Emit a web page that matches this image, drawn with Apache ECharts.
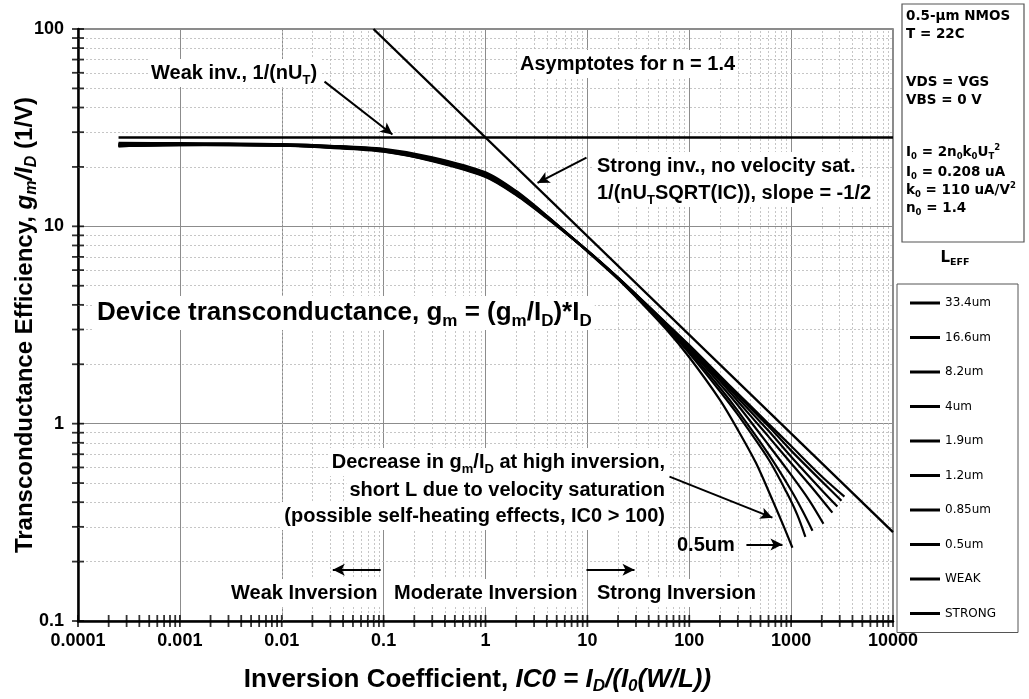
<!DOCTYPE html>
<html>
<head>
<meta charset="utf-8">
<script src="https://cdn.jsdelivr.net/npm/echarts@6/dist/echarts.min.js"></script>
<style>
html,body{margin:0;padding:0;background:#fff;}
#main{width:1029px;height:699px;}
</style>
</head>
<body>
<div id="main"></div>
<script>
// axes
var xTicks = [0.0001, 0.001, 0.01, 0.1, 1, 10, 100, 1000, 10000];
var xTickLabels = ['0.0001', '0.001', '0.01', '0.1', '1', '10', '100', '1000', '10000'];
var yTicks = [0.1, 1, 10, 100];
var yTickLabels = ['0.1', '1', '10', '100'];

// measured gm/ID vs IC0 for each channel length, [IC0, gm/ID]
var l334 = [[0.00025,26.5],[0.001,26.4],[0.003,26.3],[0.01,26.1],[0.03,25.5],[0.1,24.4],[0.3,21.9],[1,18.2],[2,14.7],[4,11.2],[10,7.55],[20,5.5],[30,4.52],[60,3.22],[100,2.5],[200,1.75],[300,1.42],[600,1.0],[1000,0.77],[2000,0.54],[3335,0.427]];
var l166 = [[0.00025,26.2],[0.001,26.2],[0.003,26.1],[0.01,25.9],[0.03,25.3],[0.1,24.2],[0.3,21.7],[1,18.0],[2,14.6],[4,11.1],[10,7.53],[20,5.49],[30,4.51],[60,3.2],[100,2.48],[200,1.72],[300,1.39],[600,0.97],[1000,0.73],[2000,0.51],[3120,0.407]];
var l82 = [[0.00025,26.0],[0.001,26.0],[0.003,25.9],[0.01,25.7],[0.03,25.1],[0.1,24.0],[0.3,21.5],[1,17.9],[2,14.5],[4,11.1],[10,7.52],[20,5.48],[30,4.5],[60,3.18],[100,2.45],[200,1.69],[300,1.35],[600,0.92],[1000,0.68],[2000,0.46],[2845,0.38]];
var l4 = [[0.00025,25.8],[0.001,25.9],[0.003,25.8],[0.01,25.6],[0.03,25.0],[0.1,23.9],[0.3,21.4],[1,17.8],[2,14.4],[4,11.0],[10,7.5],[20,5.47],[30,4.49],[60,3.16],[100,2.42],[200,1.65],[300,1.30],[600,0.86],[1000,0.63],[1600,0.475],[2540,0.354]];
var l19 = [[0.00025,25.7],[0.001,25.8],[0.003,25.8],[0.01,25.6],[0.03,25.1],[0.1,24.1],[0.3,21.7],[1,18.1],[2,14.6],[4,11.1],[10,7.5],[20,5.46],[30,4.47],[60,3.13],[100,2.38],[200,1.59],[300,1.24],[600,0.78],[1000,0.55],[1500,0.41],[2075,0.311]];
var l12 = [[0.00025,25.6],[0.001,25.8],[0.003,25.9],[0.01,25.7],[0.03,25.2],[0.1,24.3],[0.3,22.0],[1,18.4],[2,14.8],[4,11.2],[10,7.5],[20,5.45],[30,4.45],[60,3.09],[100,2.33],[200,1.52],[300,1.16],[600,0.70],[1000,0.46],[1300,0.36],[1620,0.287]];
var l085 = [[0.00025,25.5],[0.001,25.9],[0.003,26.0],[0.01,25.9],[0.03,25.4],[0.1,24.5],[0.3,22.2],[1,18.6],[2,15.0],[4,11.3],[10,7.5],[20,5.43],[30,4.42],[60,3.05],[100,2.27],[200,1.46],[300,1.11],[600,0.66],[900,0.45],[1150,0.345],[1380,0.267]];
var l05 = [[0.00025,25.4],[0.001,26.0],[0.003,26.1],[0.01,26.0],[0.03,25.6],[0.1,24.7],[0.3,22.4],[1,18.8],[2,15.1],[4,11.3],[10,7.45],[20,5.4],[30,4.38],[60,2.99],[100,2.17],[200,1.32],[300,0.93],[450,0.635],[656,0.41],[850,0.30],[1030,0.235]];

// asymptotes for n = 1.4
var weakAsym = [[0.00025,28.2],[10000,28.2]];
var strongAsym = [[0.0795,100],[10000,0.282]];

var curveNames = ['33.4um','16.6um','8.2um','4um','1.9um','1.2um','0.85um','0.5um'];
var curveData = [l334, l166, l82, l4, l19, l12, l085, l05];

var FONT = 'Liberation Sans, Arial, Helvetica, sans-serif';
var WIDE = 'DejaVu Sans, Verdana, sans-serif';

var chart = echarts.init(document.getElementById('main'));

//网格和刻度
var gridLines = [];
var xMinor = [], yMinor = [];
for (var i = 0; i < xTicks.length - 1; i++) {
	for (var k = 1; k <= 9; k++) {
		var v = xTicks[i] * k;
		if (k > 1) gridLines.push({xAxis: v});
		xMinor.push([v, 0.1]);
	}
}
xMinor.push([10000, 0.1]);
for (var j = 0; j < yTicks.length - 1; j++) {
	for (var m = 1; m <= 9; m++) {
		var w = yTicks[j] * m;
		if (m > 1) gridLines.push({yAxis: w});
		yMinor.push([0.0001, w]);
	}
}
yMinor.push([0.0001, 100]);

function tickLabel(list, labels) {
	return function (v) {
		var idx = Math.round(Math.log10(v) - Math.log10(list[0]));
		return labels[idx] !== undefined ? labels[idx] : '';
	};
}

var rich = {
	b: {fontFamily: FONT, fontWeight: 'bold', fontSize: 20, lineHeight: 28, color: '#000'},
	s: {fontFamily: FONT, fontWeight: 'bold', fontSize: 13, lineHeight: 15, verticalAlign: 'bottom', color: '#000'},
	big: {fontFamily: FONT, fontWeight: 'bold', fontSize: 26, lineHeight: 34, color: '#000'},
	bigs: {fontFamily: FONT, fontWeight: 'bold', fontSize: 17, lineHeight: 19, verticalAlign: 'bottom', color: '#000'}
};

function label(x, y, text, align, extra) {
	return {
		type: 'text', x: x, y: y, z: 50,
		style: {
			text: text, rich: rich, align: align || 'left', verticalAlign: 'middle',
			fontFamily: FONT, fontWeight: 'bold', fontSize: 20,
			backgroundColor: extra === false ? 'transparent' : '#fff', padding: [0, 3]
		}
	};
}

var boxRich = {
	t: {fontFamily: WIDE, fontWeight: 'bold', fontSize: 13.5, lineHeight: 18, color: '#000'},
	s: {fontFamily: WIDE, fontWeight: 'bold', fontSize: 8.5, lineHeight: 9, verticalAlign: 'bottom', color: '#000'},
	p: {fontFamily: WIDE, fontWeight: 'bold', fontSize: 8.5, lineHeight: 9, verticalAlign: 'top', color: '#000'}
};
function boxLine(y, text) {
	return {type: 'text', x: 906, y: y, z: 50,
		style: {text: text, rich: boxRich, align: 'left', verticalAlign: 'middle'}};
}

var series = [];
for (var c = 0; c < curveData.length; c++) {
	series.push({
		name: curveNames[c], type: 'line', data: curveData[c], showSymbol: false,
		smooth: 0.3, color: '#000', lineStyle: {color: '#000', width: 2.2}, z: 10
	});
}
series.push({
	name: 'WEAK', type: 'line', data: weakAsym, showSymbol: false, color: '#000',
	lineStyle: {color: '#000', width: 2.4}, z: 11
});
series.push({
	name: 'STRONG', type: 'line', data: strongAsym, showSymbol: false, color: '#000',
	lineStyle: {color: '#000', width: 2.4}, z: 11
});
// minor grid
series.push({
	name: 'grid', type: 'line', data: [[1, 1]], showSymbol: false, lineStyle: {opacity: 0},
	silent: true, z: 1,
	markLine: {
		silent: true, symbol: 'none', label: {show: false},
		lineStyle: {color: '#b8b8b8', type: [2, 2], width: 0.8},
		emphasis: {disabled: true},
		data: gridLines
	}
});
// arrows
series.push({
	name: 'arrows', type: 'line', data: [[1, 1]], showSymbol: false, lineStyle: {opacity: 0},
	silent: true, z: 20,
	markLine: {
		silent: true, symbol: ['none', 'arrow'], symbolSize: [9, 12], label: {show: false},
		lineStyle: {color: '#000', type: 'solid', width: 2},
		emphasis: {disabled: true},
		data: [
			[{coord: [0.0263, 54.1]}, {coord: [0.122, 29.2]}],
			[{coord: [9.8, 22.3]}, {coord: [3.24, 16.6]}],
			[{coord: [64, 0.539]}, {coord: [655, 0.334]}],
			[{coord: [364, 0.244]}, {coord: [822, 0.244]}],
			[{coord: [0.0935, 0.182]}, {coord: [0.0317, 0.182]}],
			[{coord: [9.8, 0.182]}, {coord: [29, 0.182]}]
		]
	}
});
// crossing ticks
series.push({
	name: 'xticks', type: 'scatter', data: xMinor, symbol: 'rect', symbolSize: [1.8, 12],
	itemStyle: {color: '#000'}, clip: false, silent: true, z: 30
});
series.push({
	name: 'yticks', type: 'scatter', data: yMinor, symbol: 'rect', symbolSize: [12, 1.8],
	itemStyle: {color: '#000'}, clip: false, silent: true, z: 30
});

function nameRich(size) {
	return {
		b: {fontFamily: FONT, fontWeight: 'bold', fontSize: size, lineHeight: 30, color: '#000'},
		i: {fontFamily: FONT, fontWeight: 'bold', fontStyle: 'italic', fontSize: size, lineHeight: 30, color: '#000'},
		is: {fontFamily: FONT, fontWeight: 'bold', fontStyle: 'italic', fontSize: Math.round(size * 0.66), lineHeight: 17, verticalAlign: 'bottom', color: '#000'}
	};
}

var option = {
	backgroundColor: '#fff',
	animation: false,
	grid: {left: 78, right: 136, top: 29, bottom: 78, containLabel: false, outerBoundsMode: 'none',
		show: true, borderColor: '#666', borderWidth: 1.5},
	xAxis: {
		type: 'log', logBase: 10, min: 0.0001, max: 10000, splitNumber: 8,
		axisLine: {show: true, lineStyle: {color: '#000', width: 2.5}},
		axisTick: {show: false},
		splitLine: {show: true, lineStyle: {color: '#8c8c8c', width: 1}},
		axisLabel: {formatter: tickLabel(xTicks, xTickLabels), fontFamily: FONT, fontWeight: 'bold', fontSize: 18, color: '#000', margin: 11},
		name: '{b|Inversion Coefficient, }{i|IC0 = I}{is|D}{i|/(I}{is|0}{i|(W/L))}',
		nameLocation: 'middle', nameGap: 44, nameMoveOverlap: false,
		nameTextStyle: {rich: nameRich(26), padding: [0, 16, 0, 0]}
	},
	yAxis: {
		type: 'log', logBase: 10, min: 0.1, max: 100, splitNumber: 3,
		axisLine: {show: true, lineStyle: {color: '#000', width: 2.5}},
		axisTick: {show: false},
		splitLine: {show: true, lineStyle: {color: '#8c8c8c', width: 1}},
		axisLabel: {formatter: tickLabel(yTicks, yTickLabels), fontFamily: FONT, fontWeight: 'bold', fontSize: 18, color: '#000', margin: 14},
		name: '{b|Transconductance Efficiency, }{i|g}{is|m}{i|/I}{is|D}{b| (1/V)}',
		nameLocation: 'middle', nameGap: 38, nameRotate: 90, nameMoveOverlap: false,
		nameTextStyle: {rich: nameRich(24)}
	},
	legend: {
		data: curveNames.concat(['WEAK', 'STRONG']),
		orient: 'vertical', left: 897, top: 284,
		icon: 'rect', itemWidth: 30, itemHeight: 3, itemGap: 18.5,
		padding: [11, 22, 11, 13],
		borderColor: '#555', borderWidth: 1,
		selectedMode: false,
		textStyle: {fontFamily: WIDE, fontSize: 12, color: '#000', lineHeight: 16}
	},
	graphic: [
		{type: 'rect', shape: {x: 902, y: 4, width: 122, height: 238}, style: {fill: '#fff', stroke: '#555', lineWidth: 1.2}, z: 40},
		boxLine(16, '{t|0.5-µm NMOS}'),
		boxLine(34, '{t|T = 22C}'),
		boxLine(82, '{t|VDS = VGS}'),
		boxLine(100, '{t|VBS = 0 V}'),
		boxLine(152, '{t|I}{s|0}{t| = 2n}{s|0}{t|k}{s|0}{t|U}{s|T}{p|2}'),
		boxLine(172, '{t|I}{s|0}{t| = 0.208 uA}'),
		boxLine(190, '{t|k}{s|0}{t| = 110 uA/V}{p|2}'),
		boxLine(208, '{t|n}{s|0}{t| = 1.4}'),
		{type: 'text', x: 955, y: 258, z: 50, style: {
			text: '{L|L}{E|EFF}', align: 'center', verticalAlign: 'middle',
			rich: {
				L: {fontFamily: WIDE, fontWeight: 'bold', fontSize: 15, lineHeight: 20, color: '#000'},
				E: {fontFamily: WIDE, fontWeight: 'bold', fontSize: 9.5, lineHeight: 11, verticalAlign: 'bottom', color: '#000'}
			}
		}},
		label(148, 73, '{b|Weak inv., 1/(nU}{s|T}{b|)}'),
		label(517, 64, '{b|Asymptotes for n = 1.4}'),
		label(594, 166, '{b|Strong inv., no velocity sat.}'),
		label(594, 193, '{b|1/(nU}{s|T}{b|SQRT(IC)), slope = -1/2}'),
		label(94, 313, '{big|Device transconductance, g}{bigs|m}{big| = (g}{bigs|m}{big|/I}{bigs|D}{big|)*I}{bigs|D}'),
		label(668, 462, '{b|Decrease in g}{s|m}{b|/I}{s|D}{b| at high inversion,}', 'right'),
		label(668, 490, '{b|short L due to velocity saturation}', 'right'),
		label(668, 516, '{b|(possible self-heating effects, IC0 > 100)}', 'right'),
		label(674, 545, '{b|0.5um}', 'left', false),
		label(228, 593, '{b|Weak Inversion}'),
		label(391, 593, '{b|Moderate Inversion}'),
		label(594, 593, '{b|Strong Inversion}')
	],
	series: series
};
chart.setOption(option);
</script>
</body>
</html>
